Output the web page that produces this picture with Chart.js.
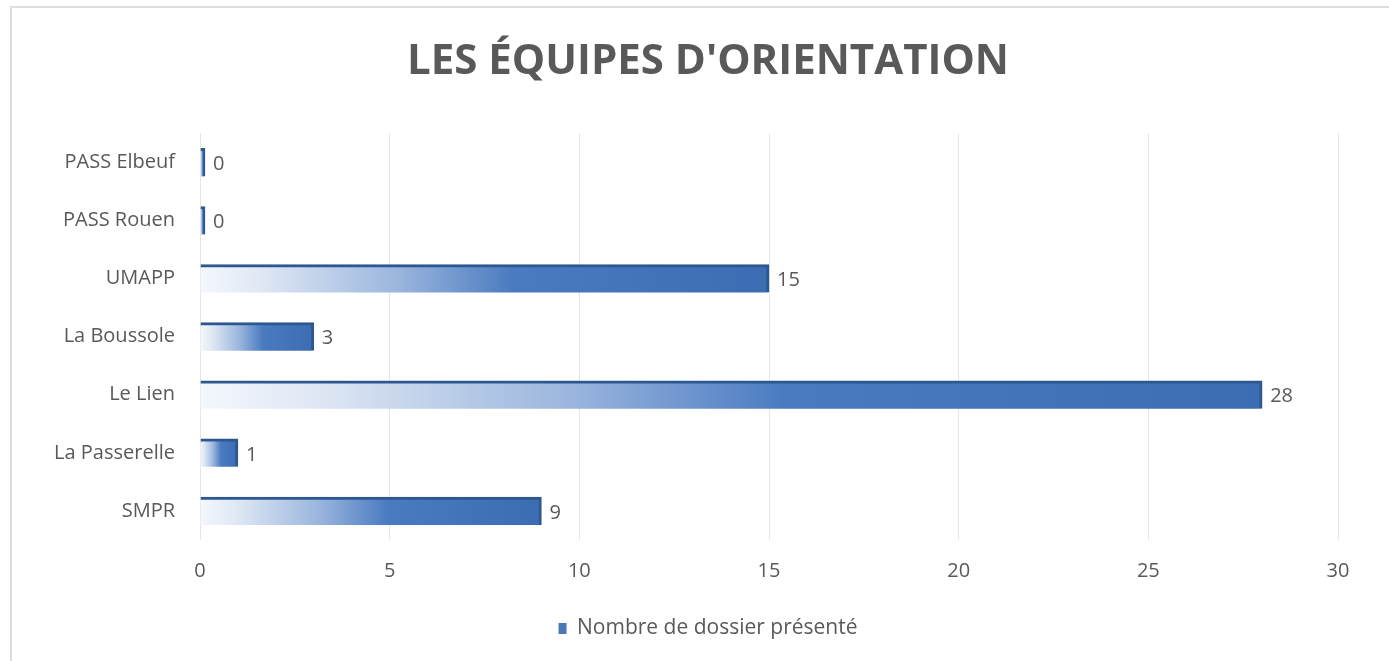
<!DOCTYPE html>
<html>
<head>
<meta charset="utf-8">
<script src="https://cdn.jsdelivr.net/npm/chart.js@4/dist/chart.umd.min.js"></script>
<style>
  html, body { margin: 0; padding: 0; background: #fff; }
  #frame {
    position: absolute; left: 10px; top: 6px; width: 1379px; height: 655px;
    border-top: 2px solid #dedede; border-left: 2px solid #dedede;
  }
  #wrap { position: absolute; left: 0; top: 0; width: 1377px; height: 653px; }
</style>
</head>
<body>
<div id="frame"><div id="wrap"><canvas id="chart"></canvas></div></div>
<script>
// chart data
const categories = ['PASS Elbeuf', 'PASS Rouen', 'UMAPP', 'La Boussole', 'Le Lien', 'La Passerelle', 'SMPR'];
const dossiers = [0, 0, 15, 3, 28, 1, 9];
const seriesLabel = 'Nombre de dossier présenté';
const chartTitle = "LES ÉQUIPES D'ORIENTATION";

const grey = '#595959';
const font = "'Open Sans', Lato, sans-serif";

// horizontal gradient along each bar, light at the base, dark at the end
function barFill(context) {
  const chart = context.chart;
  const x = chart.scales && chart.scales.x;
  if (!x || !chart.chartArea) return '#3d6eb5';
  const v = context.raw || 0;
  const x0 = x.getPixelForValue(0);
  let x1 = x.getPixelForValue(v);
  if (x1 - x0 < 5) x1 = x0 + 5;
  const g = chart.ctx.createLinearGradient(x0, 0, x1, 0);
  g.addColorStop(0, '#f4f7fc');
  g.addColorStop(0.1, '#e1e9f5');
  g.addColorStop(0.35, '#9ab5dd');
  g.addColorStop(0.55, '#4a7bc0');
  g.addColorStop(1, '#3c6db2');
  return g;
}

// value labels at the end of each bar
const valueLabels = {
  id: 'valueLabels',
  afterDatasetsDraw(chart) {
    const ctx = chart.ctx;
    const meta = chart.getDatasetMeta(0);
    ctx.save();
    ctx.font = '20px ' + font;
    ctx.fillStyle = grey;
    ctx.textAlign = 'left';
    ctx.textBaseline = 'middle';
    meta.data.forEach((bar, i) => {
      ctx.fillText(String(dossiers[i]), bar.x + 8, bar.y + 2);
    });
    ctx.restore();
  }
};

new Chart(document.getElementById('chart'), {
  type: 'bar',
  data: {
    labels: categories,
    datasets: [{
      label: seriesLabel,
      data: dossiers,
      backgroundColor: barFill,
      borderColor: '#2c5791',
      borderWidth: { top: 3, right: 3, bottom: 0, left: 0 },
      borderSkipped: false,
      barThickness: 28,
      minBarLength: 5,
    }],
  },
  options: {
    indexAxis: 'y',
    responsive: true,
    maintainAspectRatio: false,
    animation: false,
    layout: { padding: { left: 35, right: 20, top: 29, bottom: 12 } },
    plugins: {
      title: {
        display: true,
        text: chartTitle,
        color: grey,
        font: { family: font, size: 42, weight: 'bold' },
        padding: { top: 0, bottom: 46 },
      },
      legend: {
        position: 'bottom',
        labels: {
          color: grey,
          font: { family: font, size: 21 },
          boxWidth: 8,
          boxHeight: 11,
          padding: 10,
          generateLabels: () => [{
            text: seriesLabel,
            fillStyle: '#4a78b8',
            strokeStyle: '#4a78b8',
            lineWidth: 0,
            fontColor: grey,
          }],
        },
      },
      tooltip: { enabled: false },
    },
    scales: {
      x: {
        min: 0,
        max: 30,
        ticks: { stepSize: 5, color: grey, font: { family: font, size: 20 }, padding: 19 },
        grid: { color: '#e6e6e6', drawTicks: false },
        border: { display: false },
        afterFit: (scale) => { scale.height += 6; },
      },
      y: {
        ticks: { color: grey, font: { family: font, size: 20 }, padding: 17 },
        grid: { display: false },
        border: { display: false },
        afterFit: (scale) => { scale.width = 153; },
      },
      // empty right-hand axis, only keeps space at the right of the plot
      yRight: {
        type: 'category',
        labels: categories,
        position: 'right',
        grid: { display: false },
        border: { display: false },
        ticks: { display: false },
        afterFit: (scale) => { scale.width = 31; },
      },
    },
  },
  plugins: [valueLabels],
});
</script>
</body>
</html>
